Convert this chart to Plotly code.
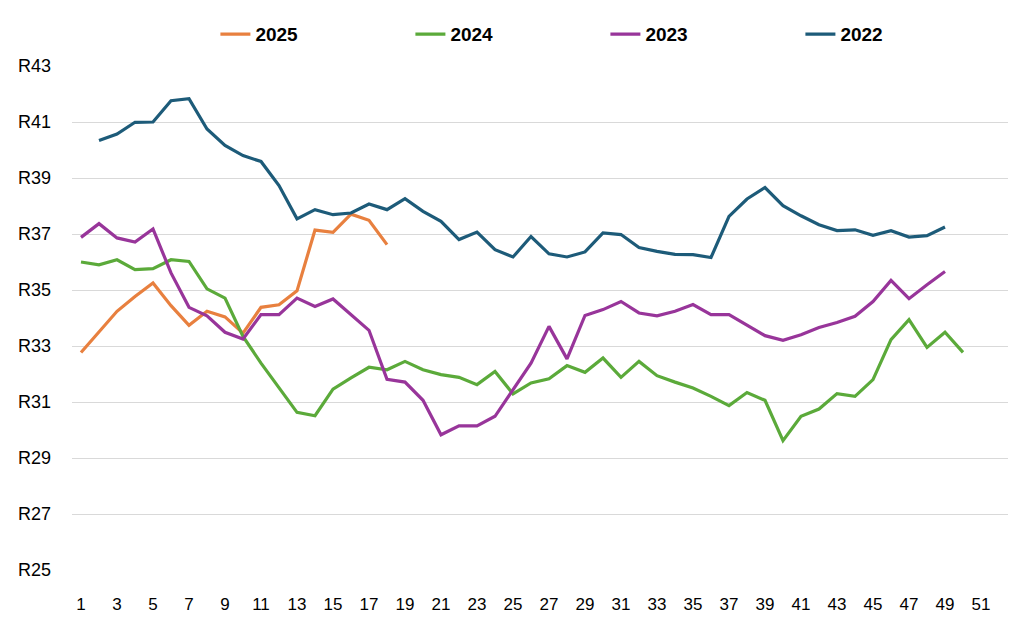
import plotly.graph_objects as go

weeks_2025 = list(range(1, 19))
vals_2025 = [32.77, 33.5, 34.24, 34.77, 35.25, 34.44, 33.74, 34.24, 34.04, 33.46,
             34.38, 34.47, 34.97, 37.14, 37.06, 37.71, 37.49, 36.62]

weeks_2024 = list(range(1, 51))
vals_2024 = [36.0, 35.9, 36.08, 35.73, 35.76, 36.08, 36.02, 35.04, 34.71, 33.34,
             32.39, 31.5, 30.63, 30.51, 31.46, 31.86, 32.24, 32.15, 32.45, 32.15,
             31.98, 31.88, 31.62, 32.09, 31.29, 31.68, 31.83, 32.3, 32.06, 32.57,
             31.88, 32.45, 31.94, 31.71, 31.5, 31.2, 30.87, 31.34, 31.06, 29.62,
             30.49, 30.75, 31.3, 31.2, 31.8, 33.23, 33.94, 32.95, 33.49, 32.77]

weeks_2023 = list(range(1, 50))
vals_2023 = [36.88, 37.37, 36.86, 36.71, 37.18, 35.61, 34.38, 34.08, 33.49, 33.25,
             34.12, 34.12, 34.71, 34.41, 34.68, 34.12, 33.56, 31.81, 31.71, 31.06,
             29.83, 30.15, 30.15, 30.49, 31.44, 32.39, 33.7, 32.54, 34.09, 34.3,
             34.59, 34.18, 34.08, 34.24, 34.48, 34.12, 34.12, 33.76, 33.37, 33.2,
             33.4, 33.66, 33.84, 34.06, 34.59, 35.34, 34.69, 35.19, 35.66]

weeks_2022 = list(range(2, 50))
vals_2022 = [40.34, 40.57, 40.99, 41.0, 41.76, 41.83, 40.75, 40.16, 39.8, 39.59,
             38.73, 37.54, 37.87, 37.69, 37.75, 38.07, 37.87, 38.26, 37.81, 37.45,
             36.8, 37.07, 36.44, 36.18, 36.91, 36.29, 36.18, 36.36, 37.04, 36.98,
             36.52, 36.38, 36.27, 36.26, 36.16, 37.63, 38.25, 38.66, 38.01, 37.65,
             37.33, 37.12, 37.15, 36.95, 37.12, 36.89, 36.94, 37.25]

x_ticks = list(range(1, 52, 2))
y_ticks = list(range(25, 44, 2))
y_labels = [f"R{v}" for v in y_ticks]

series = [
    ("2025", weeks_2025, vals_2025, "#E8803F"),
    ("2024", weeks_2024, vals_2024, "#5BAA3A"),
    ("2023", weeks_2023, vals_2023, "#98359A"),
    ("2022", weeks_2022, vals_2022, "#1D5B79"),
]

fig = go.Figure()
for name, xs, ys, col in series:
    fig.add_trace(go.Scatter(x=xs, y=ys, mode="lines", name=name,
                             line=dict(color=col, width=3.2)))

font_family = "Liberation Sans Narrow, Liberation Sans, Arial, sans-serif"
fig.update_layout(
    width=1016, height=624,
    margin=dict(l=64, r=16, t=58, b=62, autoexpand=False),
    paper_bgcolor="white", plot_bgcolor="white",
    font=dict(family=font_family, size=17, color="#000000"),
    legend=dict(orientation="h", x=0.588, xanchor="center", y=0.958, yanchor="middle",
                xref="container", yref="container",
                font=dict(family=font_family, size=19, color="#000000", weight="bold"),
                entrywidth=150, entrywidthmode="pixels", itemwidth=30,
                bgcolor="rgba(0,0,0,0)"),
    xaxis=dict(range=[0.5, 52.5], tickmode="array", tickvals=x_ticks,
               ticktext=[str(v) for v in x_ticks], showgrid=False, zeroline=False,
               showline=False, ticks="", tickfont=dict(size=17), ticklabelstandoff=22),
    yaxis=dict(range=[25, 43], tickmode="array", tickvals=y_ticks, ticktext=y_labels,
               showgrid=True, gridcolor="#D9D9D9", gridwidth=1, zeroline=False,
               showline=False, ticks="", ticklabelstandoff=20, tickfont=dict(size=18)),
)
fig.write_html("out.html")
